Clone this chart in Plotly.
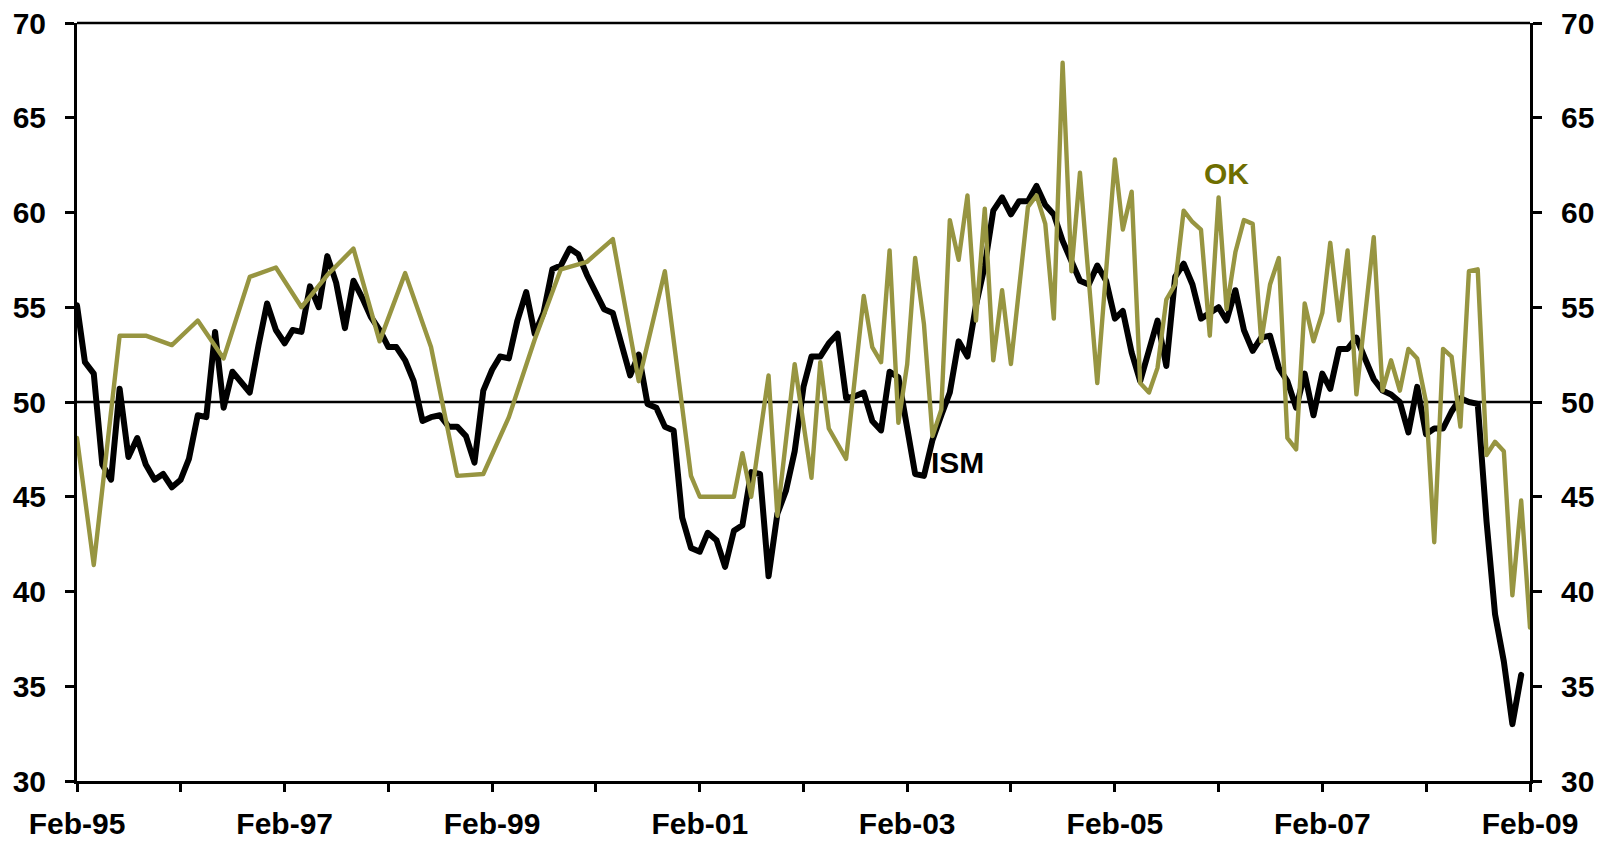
import pandas as pd
import plotly.graph_objects as go

# Monthly observations, Feb-1995 .. Feb-2009
months = pd.date_range("1995-02-01", "2009-02-01", freq="MS")

# ISM manufacturing index (monthly)
ism = [
    55.1, 52.1, 51.5, 46.7, 45.9, 50.7, 47.1, 48.1, 46.7, 45.9, 46.2, 45.5,
    45.9, 47.0, 49.3, 49.2, 53.7, 49.7, 51.6, 51.0, 50.5, 53.0, 55.2, 53.8,
    53.1, 53.8, 53.7, 56.1, 55.0, 57.7, 56.3, 53.9, 56.4, 55.5, 54.5, 53.8,
    52.9, 52.9, 52.2, 51.1, 49.0, 49.2, 49.3, 48.7, 48.7, 48.2, 46.8, 50.6,
    51.7, 52.4, 52.3, 54.3, 55.8, 53.6, 54.7, 57.0, 57.2, 58.1, 57.8, 56.7,
    55.8, 54.9, 54.7, 53.2, 51.4, 52.5, 49.9, 49.7, 48.7, 48.5, 43.9, 42.3,
    42.1, 43.1, 42.7, 41.3, 43.2, 43.5, 46.3, 46.2, 40.8, 44.1, 45.3, 47.4,
    50.8, 52.4, 52.4, 53.1, 53.6, 50.2, 50.3, 50.5, 49.0, 48.5, 51.6, 51.3,
    48.8, 46.2, 46.1, 48.0, 49.3, 50.5, 53.2, 52.4, 55.1, 57.2, 60.1, 60.8,
    59.9, 60.6, 60.6, 61.4, 60.4, 59.9, 58.5, 57.4, 56.4, 56.2, 57.2, 56.4,
    54.4, 54.8, 52.6, 51.1, 52.7, 54.3, 51.9, 56.6, 57.3, 56.2, 54.4, 54.7,
    55.0, 54.3, 55.9, 53.8, 52.7, 53.4, 53.5, 51.8, 51.1, 49.7, 51.5, 49.3,
    51.5, 50.7, 52.8, 52.8, 53.4, 52.3, 51.2, 50.6, 50.4, 50.0, 48.4, 50.8,
    48.3, 48.6, 48.6, 49.5, 50.2, 50.0, 49.9, 43.7, 38.8, 36.3, 33.0, 35.6,
    None,
]

# OK survey index (quarterly at first, monthly later; None = no reading)
ok = [
    48.1, None, 41.4, None, None, 53.5, None, None, 53.5, None, None, 53.0,
    None, None, 54.3, None, None, 52.3, None, None, 56.6, None, None, 57.1,
    None, None, 55.0, None, None, 56.7, None, None, 58.1, None, None, 53.2,
    None, None, 56.8, None, None, 52.9, None, None, 46.1, None, None, 46.2,
    None, None, 49.2, None, None, 53.3, None, None, 57.0, None, None, 57.4,
    None, None, 58.6, None, None, 51.1, None, None, 56.9, None, None, 46.1,
    45.0, None, None, None, 45.0, 47.3, 45.0, None, 51.4, 44.0, None, 52.0,
    None, 46.0, 52.1, 48.6, None, 47.0, None, 55.6, 52.9, 52.1, 58.0, 48.9,
    52.0, 57.6, 54.1, 48.2, 49.6, 59.6, 57.5, 60.9, 54.3, 60.2, 52.2, 55.9,
    52.0, None, 60.3, 60.9, 59.4, 54.4, 67.9, 56.9, 62.1, None, 51.0, None,
    62.8, 59.1, 61.1, 51.0, 50.5, 51.8, 55.4, 56.2, 60.1, 59.5, 59.1, 53.5,
    60.8, 54.9, 57.9, 59.6, 59.4, 53.2, 56.2, 57.6, 48.1, 47.5, 55.2, 53.2,
    54.7, 58.4, 54.3, 58.0, 50.4, None, 58.7, 50.6, 52.2, 50.6, 52.8, 52.3,
    50.0, 42.6, 52.8, 52.4, 48.7, 56.9, 57.0, 47.2, 47.9, 47.4, 39.8, 44.8,
    38.1,
]

# Axis ticks: a mark every February, a label every other year
tick_dates = pd.date_range("1995-02-01", "2009-02-01", freq="12MS")
tick_text = ["Feb-95", "", "Feb-97", "", "Feb-99", "", "Feb-01", "",
             "Feb-03", "", "Feb-05", "", "Feb-07", "", "Feb-09"]
y_ticks = [30, 35, 40, 45, 50, 55, 60, 65, 70]

FONT = "Liberation Sans, Arial, sans-serif"
OLIVE = "#979541"
OK_TEXT = "#6e6e00"

fig = go.Figure()

fig.add_trace(go.Scatter(
    x=months, y=ism, mode="lines", name="ISM",
    line=dict(color="black", width=6), connectgaps=False,
    hoverinfo="x+y",
))
fig.add_trace(go.Scatter(
    x=months, y=ok, mode="lines", name="OK", yaxis="y2",
    line=dict(color=OLIVE, width=4.4), connectgaps=True,
    hoverinfo="x+y",
))

tickfont = dict(family=FONT, size=30, color="black", weight="bold")
yax_common = dict(
    range=[30, 70], tickvals=y_ticks, ticks="outside", ticklen=9,
    tickwidth=2.5, tickcolor="black", showline=True, linewidth=3,
    linecolor="black", showgrid=False, zeroline=False, tickfont=tickfont,
    ticklabelstandoff=13, automargin=False,
)

fig.update_layout(
    width=1608, height=842,
    margin=dict(l=77, r=78, t=23, b=61),
    paper_bgcolor="white", plot_bgcolor="white",
    showlegend=False,
    xaxis=dict(
        type="date",
        range=[months[0], months[-1]],
        tickvals=tick_dates, ticktext=tick_text,
        ticks="outside", ticklen=8, tickwidth=2.5, tickcolor="black",
        showline=True, linewidth=3, linecolor="black",
        showgrid=False, zeroline=False, tickfont=tickfont,
        ticklabelstandoff=6, automargin=False,
    ),
    yaxis=dict(side="left", **yax_common),
    yaxis2=dict(side="right", overlaying="y", **yax_common),
    shapes=[
        dict(type="line", xref="paper", yref="y", x0=0, x1=1, y0=50, y1=50,
             line=dict(color="black", width=2.5), layer="below"),
        dict(type="line", xref="paper", yref="paper", x0=0, x1=1, y0=1, y1=1,
             line=dict(color="black", width=2.5)),
    ],
    annotations=[
        dict(text="ISM", xref="paper", yref="paper", x=0.606, y=0.42,
             showarrow=False, xanchor="center", yanchor="middle",
             font=dict(family=FONT, size=30, color="black", weight="bold")),
        dict(text="OK", xref="paper", yref="paper", x=0.791, y=0.801,
             showarrow=False, xanchor="center", yanchor="middle",
             font=dict(family=FONT, size=30, color=OK_TEXT, weight="bold")),
    ],
)

round_joins = (
    "document.querySelectorAll('.scatterlayer path.js-line')"
    ".forEach(function(p){p.style.strokeLinejoin='round';"
    "p.style.strokeLinecap='round';});"
)
fig.write_html("out.html", post_script=round_joins)
